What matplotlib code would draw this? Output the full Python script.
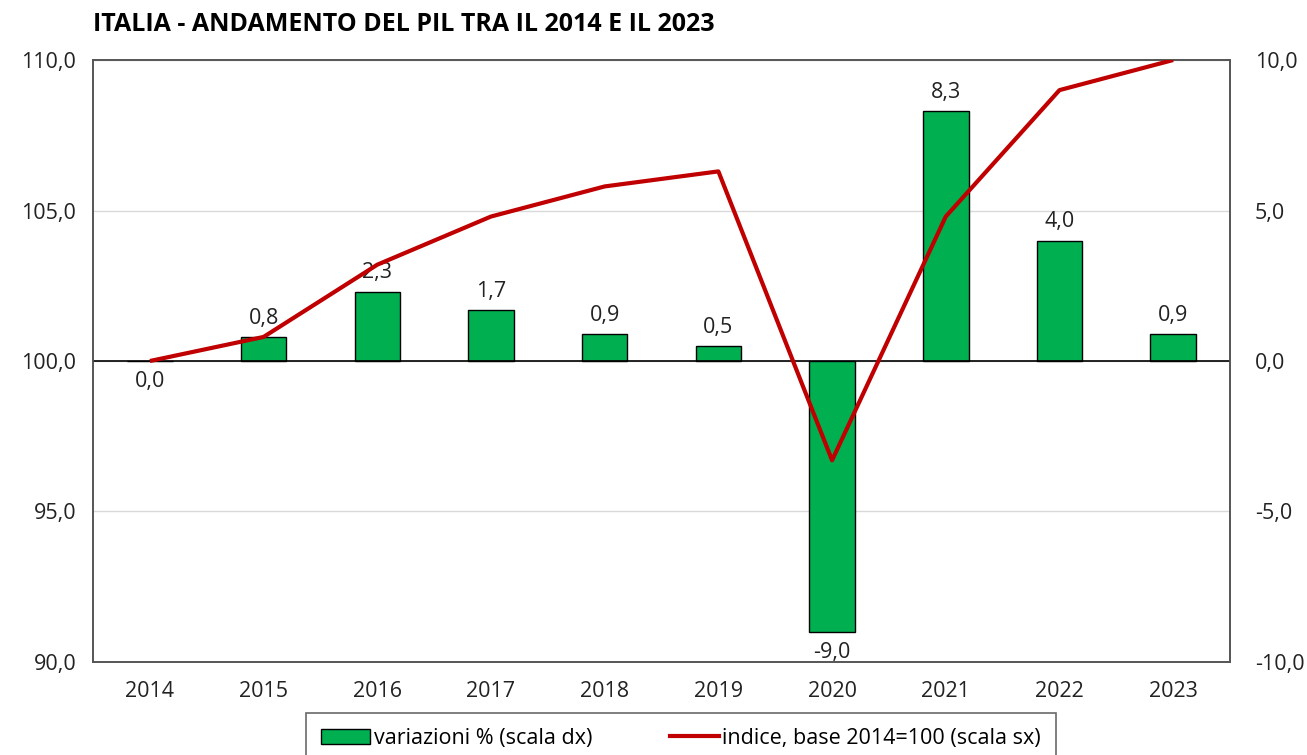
import matplotlib
matplotlib.use("Agg")
import matplotlib.pyplot as plt
from matplotlib.patches import Patch
from matplotlib.lines import Line2D

years = ["2014", "2015", "2016", "2017", "2018", "2019", "2020", "2021", "2022", "2023"]
variazioni = [0.0, 0.8, 2.3, 1.7, 0.9, 0.5, -9.0, 8.3, 4.0, 0.9]
indice = [100.0, 100.8, 103.2, 104.8, 105.8, 106.3, 96.7, 104.8, 109.0, 110.0]

plt.rcParams['font.family'] = ['Open Sans', 'DejaVu Sans']

fig = plt.figure(figsize=(13.07, 7.55), dpi=100)
ax = fig.add_axes([0.0712, 0.1232, 0.8699, 0.7973])
ax2 = ax.twinx()

x = list(range(len(years)))
ax.set_zorder(ax2.get_zorder() + 1)
ax.patch.set_visible(False)

ax2.bar(x, variazioni, width=0.4, color="#00B050", edgecolor="black", linewidth=1.0, zorder=3)
ax2.set_ylim(-10, 10)
ax2.set_yticks([-10, -5, 0, 5, 10])
ax2.set_yticklabels([f"{v:.1f}".replace(".", ",") for v in [-10, -5, 0, 5, 10]])
ax2.axhline(0, color="black", linewidth=1.2, zorder=4)

FS = 15.5
for xi, v in zip(x, variazioni):
    lab = f"{v:.1f}".replace(".", ",")
    if v > 0:
        ax2.annotate(lab, (xi, v), xytext=(0, 6), textcoords="offset points",
                     ha="center", va="bottom", fontsize=FS, color="#222222")
    else:
        ax2.annotate(lab, (xi, v), xytext=(0, -7), textcoords="offset points",
                     ha="center", va="top", fontsize=FS, color="#222222")

ax.plot(x, indice, color="#C00000", linewidth=3, zorder=5, solid_capstyle="butt")
ax.set_ylim(90, 110)
ax.set_xlim(-0.5, len(years) - 0.5)
ax.set_yticks([90, 95, 100, 105, 110])
ax.set_yticklabels([f"{v:.1f}".replace(".", ",") for v in [90, 95, 100, 105, 110]])
ax.set_xticks(x)
ax.set_xticklabels(years)

for a in (ax, ax2):
    a.tick_params(axis="both", length=0, labelsize=FS, colors="#222222", pad=12)
    for s in a.spines.values():
        s.set_color("#555555")
        s.set_linewidth(1.2)

ax2.yaxis.grid(True, color="#D9D9D9", linewidth=1.0, zorder=0)
ax2.set_axisbelow(True)
ax.tick_params(axis="x", pad=14)
ax2.tick_params(axis="y", pad=18)

fig.text(0.0712, 0.968, "ITALIA - ANDAMENTO DEL PIL TRA IL 2014 E IL 2023",
         fontsize=18, fontweight="bold", ha="left", va="center", color="black")

handles = [Patch(facecolor="#00B050", edgecolor="black", label="variazioni % (scala dx)"),
           Line2D([0], [0], color="#C00000", linewidth=3, label="indice, base 2014=100 (scala sx)")]
leg = fig.legend(handles=handles, loc="upper center", bbox_to_anchor=(0.521, 0.056), ncol=2,
                 frameon=True, fontsize=FS, fancybox=False, edgecolor="#444444",
                 handlelength=2.3, handletextpad=0.15, columnspacing=3.6, borderpad=0.7,
                 borderaxespad=0)
leg.get_frame().set_linewidth(1.2)

fig.savefig("out.png", dpi=100)
